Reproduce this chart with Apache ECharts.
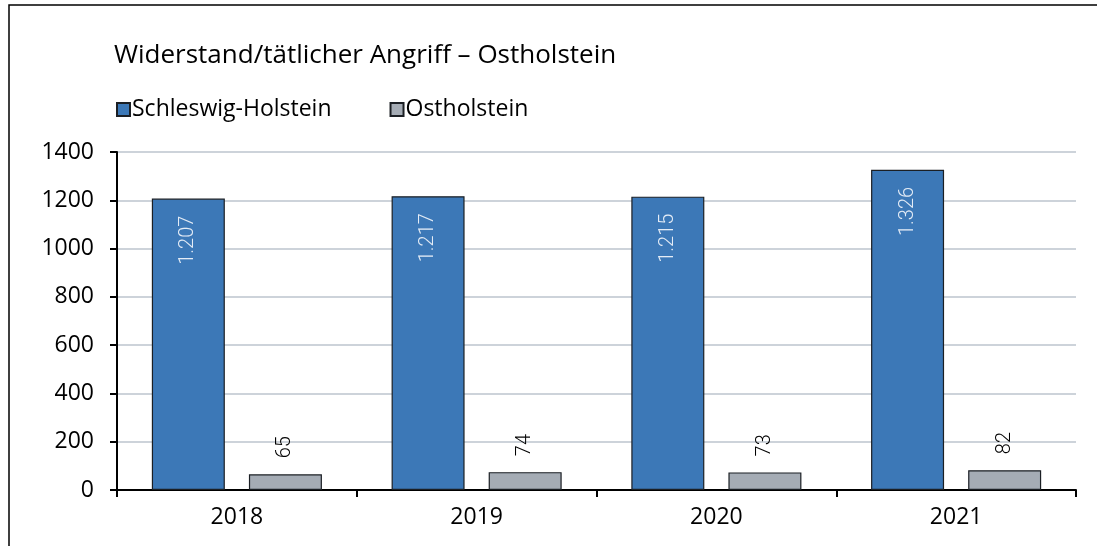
<!DOCTYPE html>
<html>
<head>
<meta charset="utf-8">
<script src="https://cdn.jsdelivr.net/npm/echarts@6/dist/echarts.min.js"></script>
<style>
  html, body { margin: 0; padding: 0; background: #fff; }
  #myChart { width: 1097px; height: 546px; }
</style>
</head>
<body>
<div id="myChart"></div>
<script>
// Daten
const years = ["2018", "2019", "2020", "2021"];
const schleswigHolstein = [1207, 1217, 1215, 1326];
const ostholstein = [65, 74, 73, 82];
const yTicks = [0, 200, 400, 600, 800, 1000, 1200, 1400];

const fontMain = "'Open Sans', Lato, sans-serif";

// 1207 -> "1.207"
function fmt(v) {
  return String(v).replace(/\B(?=(\d{3})+(?!\d))/g, ".");
}

let myChart = echarts.init(document.getElementById("myChart"));
myChart.setOption({
  animation: false,
  title: {
    text: "Widerstand/tätlicher Angriff – Ostholstein",
    left: 109,
    top: 38,
    textStyle: {
      fontFamily: fontMain,
      fontSize: 26,
      fontWeight: "normal",
      color: "#000",
    },
  },
  legend: {
    left: 111,
    top: 93,
    itemWidth: 13,
    itemHeight: 13,
    itemGap: 58,
    icon: "rect",
    textStyle: {
      fontFamily: fontMain,
      fontSize: 23,
      color: "#000",
      padding: [0, 0, 0, -3],
    },
    data: ["Schleswig-Holstein", "Ostholstein"],
  },
  graphic: [
    {
      type: "rect",
      shape: { x: 9, y: 5, width: 1200, height: 600 },
      style: { fill: "none", stroke: "#000", lineWidth: 1.5 },
      silent: true,
    },
  ],
  grid: {
    left: 117,
    right: 21,
    top: 152,
    bottom: 56,
  },
  xAxis: {
    type: "category",
    data: years,
    axisLine: { lineStyle: { color: "#000", width: 2 } },
    axisTick: { show: true, length: 7, lineStyle: { color: "#000", width: 2 } },
    axisLabel: {
      margin: 16,
      fontFamily: fontMain,
      fontSize: 23,
      color: "#000",
    },
  },
  yAxis: {
    type: "value",
    min: yTicks[0],
    max: yTicks[yTicks.length - 1],
    interval: 200,
    axisLine: { show: true, lineStyle: { color: "#000", width: 2 } },
    axisTick: { show: true, length: 7, lineStyle: { color: "#000", width: 2 } },
    axisLabel: {
      margin: 23,
      fontFamily: fontMain,
      fontSize: 23,
      color: "#000",
      formatter: (v) => String(v),
    },
    splitLine: { lineStyle: { color: "#bcc5ce", width: 1.5 } },
  },
  series: [
    {
      name: "Schleswig-Holstein",
      type: "bar",
      data: schleswigHolstein,
      barWidth: 73,
      barGap: "33%",
      itemStyle: { color: "#3c78b7", borderColor: "#1b1f24", borderWidth: 1.2 },
      label: {
        show: true,
        position: "insideTop",
        rotate: 90,
        align: "right",
        verticalAlign: "middle",
        distance: 17,
        fontFamily: "Roboto, sans-serif",
        fontWeight: 300,
        fontSize: 20,
        color: "#e4ecf6",
        formatter: (p) => fmt(p.value),
      },
    },
    {
      name: "Ostholstein",
      type: "bar",
      data: ostholstein,
      barWidth: 73,
      itemStyle: { color: "#a5acb5", borderColor: "#1b1f24", borderWidth: 1.2 },
      label: {
        show: true,
        position: "top",
        rotate: 90,
        align: "left",
        verticalAlign: "middle",
        distance: 16,
        fontFamily: "Roboto, sans-serif",
        fontWeight: 300,
        fontSize: 20,
        color: "#000",
        formatter: (p) => fmt(p.value),
      },
    },
  ],
});
</script>
</body>
</html>
